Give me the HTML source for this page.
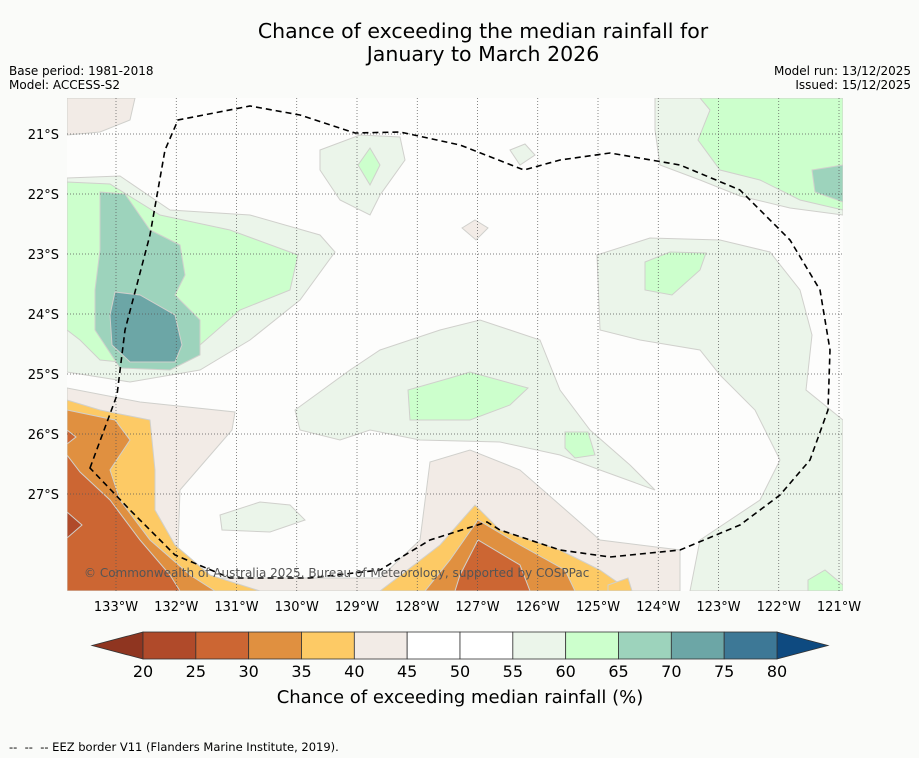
<!DOCTYPE html>
<html><head><meta charset="utf-8"><style>
body{margin:0;background:#fafbf9;}
svg{display:block;font-family:"DejaVu Sans","Liberation Sans",sans-serif;}
</style></head><body>
<svg width="919" height="758" viewBox="0 0 919 758">
<rect width="919" height="758" fill="#fafbf9"/>
<text x="483" y="38" font-size="20.5" text-anchor="middle">Chance of exceeding the median rainfall for</text>
<text x="483" y="61" font-size="20.5" text-anchor="middle">January to March 2026</text>
<text x="9" y="75" font-size="12">Base period: 1981-2018</text>
<text x="9" y="89" font-size="12">Model: ACCESS-S2</text>
<text x="911" y="75" font-size="12" text-anchor="end">Model run: 13/12/2025</text>
<text x="911" y="89" font-size="12" text-anchor="end">Issued: 15/12/2025</text>
<defs><clipPath id="mc"><rect x="67" y="98" width="776" height="493"/></clipPath></defs>
<g clip-path="url(#mc)">
<rect x="67" y="98" width="776" height="493" fill="#fdfdfc"/>
<g stroke="#d0d0cc" stroke-width="1">
<polygon fill="#f2ebe6" points="67,98 135,98 130,120 100,132 67,135"/>
<polygon fill="#f2ebe6" points="67,388 140,402 235,412 232,430 180,490 178,550 200,578 380,578 420,540 430,462 470,450 520,470 560,505 600,540 680,550 680,591 67,591"/>
<polygon fill="#f2ebe6" points="462,228 475,220 488,228 476,240"/>
<polygon fill="#ebf5ea" points="67,178 120,176 170,210 250,215 320,235 335,252 300,300 250,340 200,370 130,382 67,372"/>
<polygon fill="#ebf5ea" points="320,150 360,135 400,137 405,160 380,195 370,215 340,200 320,170"/>
<polygon fill="#ebf5ea" points="655,98 843,98 843,215 790,208 740,196 700,180 660,165 655,130"/>
<polygon fill="#ebf5ea" points="597,255 650,238 720,240 770,252 800,290 812,335 806,390 843,420 843,591 690,591 700,540 760,500 780,460 755,410 720,375 700,350 640,340 600,330"/>
<polygon fill="#ebf5ea" points="295,410 350,370 380,350 440,330 480,320 540,340 560,390 590,430 630,465 655,490 600,470 560,455 500,442 420,440 370,430 340,440 300,430"/>
<polygon fill="#ebf5ea" points="220,515 260,502 290,505 305,520 270,532 222,530"/>
<polygon fill="#ebf5ea" points="510,150 525,144 535,155 520,165"/>
<polygon fill="#ccffcc" points="67,182 110,184 160,215 230,230 298,255 290,290 240,310 200,345 150,365 100,360 80,340 67,330"/>
<polygon fill="#ccffcc" points="358,165 370,148 380,165 370,185"/>
<polygon fill="#ccffcc" points="700,98 843,98 843,210 800,200 760,180 720,170 698,140 710,110"/>
<polygon fill="#ccffcc" points="408,390 450,378 470,372 528,388 510,405 470,420 410,420"/>
<polygon fill="#ccffcc" points="645,262 670,252 706,253 700,270 672,295 645,290"/>
<polygon fill="#ccffcc" points="565,432 588,432 595,455 575,458 565,448"/>
<polygon fill="#ccffcc" points="808,580 825,570 843,585 843,591 808,591"/>
<polygon fill="#9dd3bc" points="100,192 125,194 150,230 180,245 185,275 175,295 200,320 200,355 170,370 120,368 95,330 95,290 100,250"/>
<polygon fill="#9dd3bc" points="812,170 843,165 843,202 815,192"/>
<polygon fill="#6ca6a6" points="115,292 140,295 175,315 182,345 175,362 130,362 112,345 110,315"/>
<polygon fill="#fdca65" points="67,400 100,410 150,420 155,470 155,510 175,545 210,575 260,591 67,591"/>
<polygon fill="#fdca65" points="380,591 440,545 475,505 500,530 560,550 600,570 630,591"/>
<polygon fill="#fdca65" points="608,585 628,578 632,591 608,591"/>
<polygon fill="#e09040" points="67,410 115,420 130,440 110,470 120,500 150,540 190,575 215,591 67,591"/>
<polygon fill="#e09040" points="425,591 450,560 478,520 520,545 565,570 575,591"/>
<polygon fill="#cc6633" points="67,455 80,472 110,500 140,540 170,575 180,591 67,591"/>
<polygon fill="#cc6633" points="455,591 460,575 478,540 520,565 530,591"/>
<polygon fill="#cc6633" points="67,430 76,437 67,444"/>
<polygon fill="#b04a2a" points="67,512 82,525 67,538"/>
</g>
<g id="grid" stroke="#555" stroke-width="0.7" stroke-dasharray="1,2"></g>
<path fill="none" stroke="#000" stroke-width="1.6" stroke-dasharray="6,4" d="M90,468 L117,395 L125,330 L150,235 L165,150 L178,120 L250,106 L300,115 L355,133 L400,132 L460,145 L524,170 L560,160 L610,153 L680,165 L740,190 L790,240 L820,290 L830,350 L828,410 L810,460 L780,495 L740,525 L680,550 L610,557 L560,550 L500,530 L487,522 L430,540 L380,570 L310,578 L230,578 L175,555 L130,510 Z"/>
<text x="84" y="577" font-size="12" fill="#555">© Commonwealth of Australia 2025, Bureau of Meteorology, supported by COSPPac</text>
</g>
<g id="lonlabels" font-size="13" text-anchor="middle"></g>
<g id="latlabels" font-size="13" text-anchor="end"></g>
<g id="cbar"></g>
<text x="460" y="703" font-size="18" text-anchor="middle">Chance of exceeding median rainfall (%)</text>
<text x="9" y="751" font-size="11.5" xml:space="preserve">--  --  -- EEZ border V11 (Flanders Marine Institute, 2019).</text>
</svg>
<script>
const lons=[133,132,131,130,129,128,127,126,125,124,123,122,121];
const lats=[21,22,23,24,25,26,27];
const levels=[20,25,30,35,40,45,50,55,60,65,70,75,80];
const levelColors=["#b04a2a","#cc6633","#e09040","#fdca65","#f2ebe6","#ffffff","#ffffff","#ebf5ea","#ccffcc","#9dd3bc","#6ca6a6","#3d7896"];
const NS="http://www.w3.org/2000/svg";
const xLon=l=>116+(133-l)*60.25;
const yLat=l=>134+(l-21)*60;
const xLev=v=>143+(v-20)*(634/60);
function mk(t,a,p){const e=document.createElementNS(NS,t);for(const k in a)e.setAttribute(k,a[k]);p.appendChild(e);return e;}
const grid=document.getElementById('grid');
lons.forEach(l=>{const ln=mk('line',{x1:xLon(l),x2:xLon(l),y1:98,y2:591},grid);


const t=mk('text',{x:xLon(l),y:611},document.getElementById('lonlabels'));t.textContent=l+'°W';

});
lats.forEach(l=>{const ln=mk('line',{x1:67,x2:843,y1:yLat(l),y2:yLat(l)},grid);


const t=mk('text',{x:59,y:yLat(l)+5},document.getElementById('latlabels'));t.textContent=l+'°S';

});
const cb=document.getElementById('cbar');
const lt=mk('polygon',{points:`${xLev(20)},632 92,645.5 ${xLev(20)},659`,fill:'#8f3520',stroke:'#333','stroke-width':0.8},cb);


const rt=mk('polygon',{points:`${xLev(80)},632 828,645.5 ${xLev(80)},659`,fill:'#0e4a80',stroke:'#333','stroke-width':0.8},cb);


for(let i=0;i<levelColors.length;i++){const r=mk('rect',{x:xLev(levels[i]),y:632,width:xLev(levels[i+1])-xLev(levels[i]),height:27,fill:levelColors[i],stroke:'#333','stroke-width':0.8},cb);

}
levels.forEach(v=>{const t=mk('text',{x:xLev(v),y:677,'font-size':16,'text-anchor':'middle'},cb);t.textContent=v;

});
</script>
</body></html>
